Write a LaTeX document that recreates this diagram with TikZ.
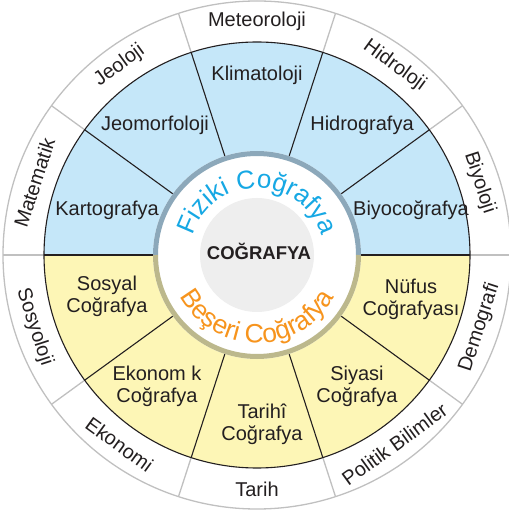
\documentclass[tikz,border=0pt]{standalone}
\usepackage{fontspec}
\setmainfont{Liberation Sans}
\usepackage{xcolor}
\usepackage{tikz}
\usetikzlibrary{decorations.text}
\definecolor{ink}{RGB}{35,31,32}
\definecolor{skyfill}{RGB}{197,231,249}
\definecolor{sandfill}{RGB}{253,246,182}
\definecolor{skyring}{RGB}{140,168,186}
\definecolor{sandring}{RGB}{188,184,140}
\definecolor{rimgray}{RGB}{192,192,192}
\definecolor{fizcyan}{RGB}{22,168,228}
\definecolor{besorange}{RGB}{247,148,29}
\definecolor{coregray}{RGB}{238,238,238}

\begin{document}
\begin{tikzpicture}[x=1pt,y=1pt,
  every node/.style={text=ink, font=\fontsize{20}{22}\selectfont},
  field/.style={align=center},
  rim/.style={draw=rimgray, line width=1.3pt},
  spoke/.style={draw=ink, line width=1.1pt}]
  \useasboundingbox (-257,-258) rectangle (251,255);
  \filldraw[rim, fill=white] (0,0) circle (254);
  \fill[skyfill] (0:213) arc (0:180:213) -- cycle;
  \fill[sandfill] (180:213) arc (180:360:213) -- cycle;
  \foreach \a in {0,36,...,324} {
    \draw[rim] (\a:213) -- (\a:254);
    \draw[spoke] (\a:104) -- (\a:213);
  }
  \draw[spoke] (0,0) circle (213);
  \fill[white] (0,0) circle (104);
  \draw[skyring, line width=5] (0:101.5) arc (0:180:101.5);
  \draw[sandring, line width=5] (180:101.5) arc (180:360:101.5);
  \fill[coregray] (0,0) circle (57);

  % sister sciences
  \foreach \a/\name in {162/Matematik, 126/Jeoloji, 90/Meteoroloji, 54/Hidroloji, 18/Biyoloji}
    \node[rotate=\a-90] (s\a) at (\a:234) {\name};
  \foreach \a/\name in {198/Sosyoloji, 234/Ekonomi, 270/Tarih, 306/Politik Bilimler, 342/Demografi}
    \node[rotate=\a+90] (s\a) at (\a:234) {\name};

  % branches
  \node[field] (kart) at (-150,45) {Kartografya};
  \node[field] (jeo) at (-102,130) {Jeomorfoloji};
  \node[field] (klima) at (0,180) {Klimatoloji};
  \node[field] (hidro) at (105,130) {Hidrografya};
  \node[field] (biyo) at (154,45) {Biyocoğrafya};
  \node[field] (sosyal) at (-150,-41) {Sosyal\\Coğrafya};
  \node[field] (ekon) at (-100,-131) {Ekonom k\\Coğrafya};
  \node[field] (tarih) at (5,-169) {Tarihî\\Coğrafya};
  \node[field] (siyasi) at (100,-131) {Siyasi\\Coğrafya};
  \node[field] (nufus) at (154,-44) {Nüfus\\Coğrafyası};

  \path[decorate, decoration={text along path, text align=center,
    text={|\color{fizcyan}\fontsize{26}{26}\selectfont|Fiziki Coğrafya}}]
    (180:67) arc (180:0:67);
  \path[decorate, decoration={text along path, text align=center,
    text={|\color{besorange}\fontsize{26.5}{26.5}\selectfont|Beşeri Coğrafya}}]
    (195:88) arc (195:345:88);
  \node[font=\bfseries\fontsize{18.5}{20}\selectfont] (core) at (2,4) {COĞRAFYA};
\end{tikzpicture}
\end{document}
